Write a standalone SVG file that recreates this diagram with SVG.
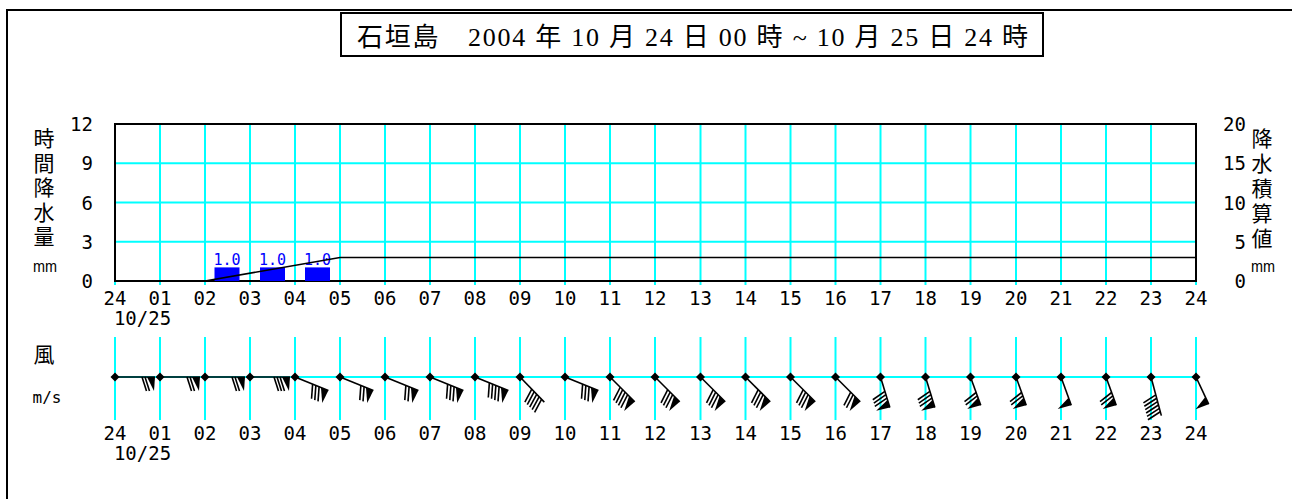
<svg xmlns="http://www.w3.org/2000/svg" xmlns:xlink="http://www.w3.org/1999/xlink" width="1292" height="499" viewBox="0 0 1292 499">
<style>
.frame{fill:none;stroke:#000;stroke-width:2}
.grid{stroke:#00ffff;stroke-width:2;fill:none}
.ax{font-family:"DejaVu Sans Mono","Liberation Mono",monospace;font-size:19px;fill:#000}
.axs{font-family:"DejaVu Sans Mono","Liberation Mono",monospace;font-size:19px;fill:#000;text-anchor:middle}
.cjk{font-family:"Noto Sans CJK JP",sans-serif;font-size:21px;fill:#000;text-anchor:middle}
.vert{font-family:"Noto Sans CJK JP",sans-serif;font-size:21px;fill:#000;writing-mode:vertical-rl;text-anchor:start}
.unit{font-family:"Liberation Sans","DejaVu Sans",sans-serif;font-size:16px;fill:#000;text-anchor:middle}
.val{font-family:"DejaVu Sans Mono","Liberation Mono",monospace;font-size:15px;fill:#0000ff;text-anchor:middle}
.bar{fill:#0000ff}
.b line{stroke:#000;stroke-width:1.6}
.b polygon,.dot{fill:#000}
</style>
<defs>
<polygon id="dot" class="dot" points="0,-4.5 4.5,0 0,4.5 -4.5,0"/>
<polygon id="pen" points="-8,0 0,0 -1,14"/>
<line id="fe" x1="0" y1="0" x2="4.5" y2="14" stroke="#000" stroke-width="1.6"/>
</defs>

<path class="frame" d="M7,499 V10 H1292"/>
<g id="title">
<rect class="frame" x="341" y="13" width="702" height="43"/>
<text x="357" y="46" textLength="671" lengthAdjust="spacing" style="font-family:'Liberation Serif','Noto Sans CJK JP',serif;font-size:26px;fill:#000">石垣島　2004 年 10 月 24 日 00 時 ~ 10 月 25 日 24 時</text>
</g>

<g id="rain-grid">
<g class="grid">
<line x1="115" y1="163.25" x2="1196" y2="163.25"/>
<line x1="115" y1="202.5" x2="1196" y2="202.5"/>
<line x1="115" y1="241.75" x2="1196" y2="241.75"/>
<line x1="115" y1="124" x2="115" y2="285"/>
<line x1="160" y1="124" x2="160" y2="285"/>
<line x1="205" y1="124" x2="205" y2="285"/>
<line x1="250" y1="124" x2="250" y2="285"/>
<line x1="295" y1="124" x2="295" y2="285"/>
<line x1="340" y1="124" x2="340" y2="285"/>
<line x1="385" y1="124" x2="385" y2="285"/>
<line x1="430" y1="124" x2="430" y2="285"/>
<line x1="475" y1="124" x2="475" y2="285"/>
<line x1="520" y1="124" x2="520" y2="285"/>
<line x1="565" y1="124" x2="565" y2="285"/>
<line x1="610" y1="124" x2="610" y2="285"/>
<line x1="655" y1="124" x2="655" y2="285"/>
<line x1="700.5" y1="124" x2="700.5" y2="285"/>
<line x1="745.5" y1="124" x2="745.5" y2="285"/>
<line x1="790.5" y1="124" x2="790.5" y2="285"/>
<line x1="835.5" y1="124" x2="835.5" y2="285"/>
<line x1="880.5" y1="124" x2="880.5" y2="285"/>
<line x1="925.5" y1="124" x2="925.5" y2="285"/>
<line x1="970.5" y1="124" x2="970.5" y2="285"/>
<line x1="1016" y1="124" x2="1016" y2="285"/>
<line x1="1061" y1="124" x2="1061" y2="285"/>
<line x1="1106" y1="124" x2="1106" y2="285"/>
<line x1="1151" y1="124" x2="1151" y2="285"/>
<line x1="1196" y1="124" x2="1196" y2="285"/>
</g>
<rect class="frame" x="115" y="124" width="1081" height="157"/>
</g>

<g id="rain-bars">
<rect class="bar" x="214.5" y="267.4" width="25" height="13.6"/>
<rect class="bar" x="260" y="267.4" width="25" height="13.6"/>
<rect class="bar" x="305" y="267.4" width="25" height="13.6"/>
<text class="val" x="227" y="265">1.0</text>
<text class="val" x="272.5" y="265">1.0</text>
<text class="val" x="317.5" y="265">1.0</text>
<polyline points="205,281 340,257.5 1196,257.5" fill="none" stroke="#000" stroke-width="1.6"/>
</g>

<g id="left-axis">
<g class="ax" text-anchor="end">
<text x="93" y="131">12</text>
<text x="93" y="170">9</text>
<text x="93" y="209.5">6</text>
<text x="93" y="249">3</text>
<text x="93" y="288">0</text>
</g>
<text class="vert" x="44" y="128" style="letter-spacing:3.5px">時間降水量</text>
<text class="unit" x="45" y="272" textLength="24" lengthAdjust="spacingAndGlyphs">mm</text>
</g>

<g id="right-axis">
<g class="ax" text-anchor="end">
<text x="1246" y="131">20</text>
<text x="1246" y="170">15</text>
<text x="1246" y="209.5">10</text>
<text x="1246" y="249">5</text>
<text x="1246" y="288">0</text>
</g>
<text class="vert" x="1262" y="128" style="letter-spacing:4px">降水積算値</text>
<text class="unit" x="1263" y="272" textLength="24" lengthAdjust="spacingAndGlyphs">mm</text>
</g>

<g id="time-axis-top" class="axs">
<text x="115" y="305">24</text><text x="160" y="305">01</text><text x="205" y="305">02</text><text x="250" y="305">03</text>
<text x="295" y="305">04</text><text x="340" y="305">05</text><text x="385" y="305">06</text><text x="430" y="305">07</text>
<text x="475" y="305">08</text><text x="520" y="305">09</text><text x="565" y="305">10</text><text x="610" y="305">11</text>
<text x="655" y="305">12</text><text x="700.5" y="305">13</text><text x="745.5" y="305">14</text><text x="790.5" y="305">15</text>
<text x="835.5" y="305">16</text><text x="880.5" y="305">17</text><text x="925.5" y="305">18</text><text x="970.5" y="305">19</text>
<text x="1016" y="305">20</text><text x="1061" y="305">21</text><text x="1106" y="305">22</text><text x="1151" y="305">23</text>
<text x="1196" y="305">24</text>
<text x="142.5" y="325">10/25</text>
</g>

<g id="wind-label">
<text class="cjk" x="44" y="362">風</text>
<text class="axs" x="47" y="403" style="font-size:16px">m/s</text>
</g>

<g id="wind-grid" class="grid">
<line x1="115" y1="377" x2="1196" y2="377"/>
<line x1="115" y1="337" x2="115" y2="420"/>
<line x1="160" y1="337" x2="160" y2="420"/>
<line x1="205" y1="337" x2="205" y2="420"/>
<line x1="250" y1="337" x2="250" y2="420"/>
<line x1="295" y1="337" x2="295" y2="420"/>
<line x1="340" y1="337" x2="340" y2="420"/>
<line x1="385" y1="337" x2="385" y2="420"/>
<line x1="430" y1="337" x2="430" y2="420"/>
<line x1="475" y1="337" x2="475" y2="420"/>
<line x1="520" y1="337" x2="520" y2="420"/>
<line x1="565" y1="337" x2="565" y2="420"/>
<line x1="610" y1="337" x2="610" y2="420"/>
<line x1="655" y1="337" x2="655" y2="420"/>
<line x1="700.5" y1="337" x2="700.5" y2="420"/>
<line x1="745.5" y1="337" x2="745.5" y2="420"/>
<line x1="790.5" y1="337" x2="790.5" y2="420"/>
<line x1="835.5" y1="337" x2="835.5" y2="420"/>
<line x1="880.5" y1="337" x2="880.5" y2="420"/>
<line x1="925.5" y1="337" x2="925.5" y2="420"/>
<line x1="970.5" y1="337" x2="970.5" y2="420"/>
<line x1="1016" y1="337" x2="1016" y2="420"/>
<line x1="1061" y1="337" x2="1061" y2="420"/>
<line x1="1106" y1="337" x2="1106" y2="420"/>
<line x1="1151" y1="337" x2="1151" y2="420"/>
<line x1="1196" y1="337" x2="1196" y2="420"/>
</g>

<g id="wind-barbs" class="b">
<g transform="translate(115,377)"><line x1="0" y1="0" x2="40" y2="0"/><use href="#pen" x="40"/><use href="#fe" x="30"/><use href="#fe" x="27"/><use href="#dot"/></g>
<g transform="translate(160,377)"><line x1="0" y1="0" x2="40" y2="0"/><use href="#pen" x="40"/><use href="#fe" x="30"/><use href="#fe" x="27"/><use href="#dot"/></g>
<g transform="translate(205,377)"><line x1="0" y1="0" x2="40" y2="0"/><use href="#pen" x="40"/><use href="#fe" x="30"/><use href="#fe" x="27"/><use href="#dot"/></g>
<g transform="translate(250,377)"><line x1="0" y1="0" x2="40" y2="0"/><use href="#pen" x="40"/><use href="#fe" x="30"/><use href="#fe" x="27"/><use href="#fe" x="24"/><use href="#dot"/></g>
<g transform="translate(295,377)"><g transform="rotate(22)"><line x1="0" y1="0" x2="36" y2="0"/><use href="#pen" x="36"/><use href="#fe" x="26"/><use href="#fe" x="22.5"/><use href="#fe" x="19"/></g><use href="#dot"/></g>
<g transform="translate(340,377)"><g transform="rotate(22)"><line x1="0" y1="0" x2="36" y2="0"/><use href="#pen" x="36"/><use href="#fe" x="26"/><use href="#fe" x="22.5"/></g><use href="#dot"/></g>
<g transform="translate(385,377)"><g transform="rotate(22)"><line x1="0" y1="0" x2="36" y2="0"/><use href="#pen" x="36"/><use href="#fe" x="26"/><use href="#fe" x="22.5"/></g><use href="#dot"/></g>
<g transform="translate(430,377)"><g transform="rotate(22)"><line x1="0" y1="0" x2="36" y2="0"/><use href="#pen" x="36"/><use href="#fe" x="26"/><use href="#fe" x="22.5"/><use href="#fe" x="19"/></g><use href="#dot"/></g>
<g transform="translate(475,377)"><g transform="rotate(22)"><line x1="0" y1="0" x2="36" y2="0"/><use href="#pen" x="36"/><use href="#fe" x="26"/><use href="#fe" x="22.5"/><use href="#fe" x="19"/><use href="#fe" x="15.5"/></g><use href="#dot"/></g>
<g transform="translate(520,377)"><g transform="rotate(46)"><line x1="0" y1="0" x2="35" y2="0"/><use href="#fe" x="31"/><use href="#fe" x="27.5"/><use href="#fe" x="24"/><use href="#fe" x="20.5"/><use href="#fe" x="17"/></g><use href="#dot"/></g>
<g transform="translate(565,377)"><g transform="rotate(22)"><line x1="0" y1="0" x2="36" y2="0"/><use href="#pen" x="36"/><use href="#fe" x="26"/><use href="#fe" x="22.5"/><use href="#fe" x="19"/></g><use href="#dot"/></g>
<g transform="translate(610,377)"><g transform="rotate(45)"><line x1="0" y1="0" x2="35" y2="0"/><use href="#pen" x="35"/><use href="#fe" x="25"/><use href="#fe" x="21.5"/><use href="#fe" x="18"/><use href="#fe" x="14.5"/></g><use href="#dot"/></g>
<g transform="translate(655,377)"><g transform="rotate(45)"><line x1="0" y1="0" x2="35" y2="0"/><use href="#pen" x="35"/><use href="#fe" x="25"/><use href="#fe" x="21.5"/><use href="#fe" x="18"/></g><use href="#dot"/></g>
<g transform="translate(700.5,377)"><g transform="rotate(45)"><line x1="0" y1="0" x2="35" y2="0"/><use href="#pen" x="35"/><use href="#fe" x="25"/><use href="#fe" x="21.5"/><use href="#fe" x="18"/></g><use href="#dot"/></g>
<g transform="translate(745.5,377)"><g transform="rotate(45)"><line x1="0" y1="0" x2="35" y2="0"/><use href="#pen" x="35"/><use href="#fe" x="25"/><use href="#fe" x="21.5"/><use href="#fe" x="18"/></g><use href="#dot"/></g>
<g transform="translate(790.5,377)"><g transform="rotate(45)"><line x1="0" y1="0" x2="35" y2="0"/><use href="#pen" x="35"/><use href="#fe" x="25"/><use href="#fe" x="21.5"/><use href="#fe" x="18"/></g><use href="#dot"/></g>
<g transform="translate(835.5,377)"><g transform="rotate(45)"><line x1="0" y1="0" x2="35" y2="0"/><use href="#pen" x="35"/><use href="#fe" x="25"/><use href="#fe" x="21.5"/></g><use href="#dot"/></g>
<g transform="translate(880.5,377)"><g transform="rotate(73)"><line x1="0" y1="0" x2="32" y2="0"/><use href="#pen" x="32"/><use href="#fe" x="22"/><use href="#fe" x="18.5"/><use href="#fe" x="15"/></g><use href="#dot"/></g>
<g transform="translate(925.5,377)"><g transform="rotate(73)"><line x1="0" y1="0" x2="32" y2="0"/><use href="#pen" x="32"/><use href="#fe" x="22"/><use href="#fe" x="18.5"/><use href="#fe" x="15"/></g><use href="#dot"/></g>
<g transform="translate(970.5,377)"><g transform="rotate(70)"><line x1="0" y1="0" x2="30" y2="0"/><use href="#pen" x="30"/><use href="#fe" x="20"/><use href="#fe" x="16.5"/></g><use href="#dot"/></g>
<g transform="translate(1016,377)"><g transform="rotate(70)"><line x1="0" y1="0" x2="30" y2="0"/><use href="#pen" x="30"/><use href="#fe" x="20"/><use href="#fe" x="16.5"/></g><use href="#dot"/></g>
<g transform="translate(1061,377)"><g transform="rotate(70)"><line x1="0" y1="0" x2="30" y2="0"/><use href="#pen" x="30"/></g><use href="#dot"/></g>
<g transform="translate(1106,377)"><g transform="rotate(70)"><line x1="0" y1="0" x2="30" y2="0"/><use href="#pen" x="30"/><use href="#fe" x="20"/><use href="#fe" x="16.5"/></g><use href="#dot"/></g>
<g transform="translate(1151,377)"><g transform="rotate(75)"><line x1="0" y1="0" x2="40" y2="0"/><use href="#fe" x="36"/><use href="#fe" x="32.5"/><use href="#fe" x="29"/><use href="#fe" x="25.5"/><use href="#fe" x="22"/><use href="#fe" x="18.5"/></g><use href="#dot"/></g>
<g transform="translate(1196,377)"><g transform="rotate(65)"><line x1="0" y1="0" x2="30" y2="0"/><use href="#pen" x="30"/></g><use href="#dot"/></g>
</g>

<g id="time-axis-bottom" class="axs">
<text x="115" y="440">24</text><text x="160" y="440">01</text><text x="205" y="440">02</text><text x="250" y="440">03</text>
<text x="295" y="440">04</text><text x="340" y="440">05</text><text x="385" y="440">06</text><text x="430" y="440">07</text>
<text x="475" y="440">08</text><text x="520" y="440">09</text><text x="565" y="440">10</text><text x="610" y="440">11</text>
<text x="655" y="440">12</text><text x="700.5" y="440">13</text><text x="745.5" y="440">14</text><text x="790.5" y="440">15</text>
<text x="835.5" y="440">16</text><text x="880.5" y="440">17</text><text x="925.5" y="440">18</text><text x="970.5" y="440">19</text>
<text x="1016" y="440">20</text><text x="1061" y="440">21</text><text x="1106" y="440">22</text><text x="1151" y="440">23</text>
<text x="1196" y="440">24</text>
<text x="142.5" y="460">10/25</text>
</g>
</svg>
